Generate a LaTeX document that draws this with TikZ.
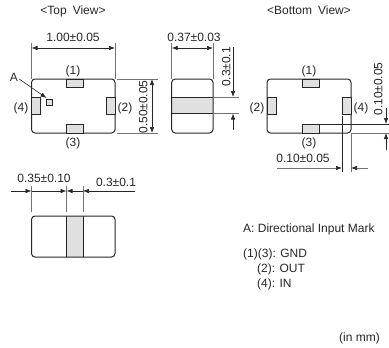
\documentclass[tikz,border=0pt]{standalone}
\usepackage{fontspec}
\setmainfont{Liberation Sans}
\usetikzlibrary{arrows.meta}
\definecolor{ink}{gray}{0.15}
\definecolor{fillg}{gray}{0.88}
\tikzset{
 x=1pt,y=-1pt,
 lab/.style={font=\fontsize{12}{12}\selectfont,text=ink,inner sep=0pt,text height=8.6pt,text depth=0pt},
 body/.style={draw=ink,line width=1pt,rounded corners=3.5pt},
 term/.style={draw=ink,line width=0.9pt,fill=fillg},
 ext/.style={draw=ink!65,line width=0.6pt},
 dim/.style={draw=ink,line width=0.6pt,{Latex[length=6pt,width=4.5pt,color=ink]}-{Latex[length=6pt,width=4.5pt,color=ink]}},
 arr/.style={draw=ink,line width=0.6pt,-{Latex[length=6pt,width=4.5pt,color=ink]}},
}
\begin{document}
\begin{tikzpicture}
\useasboundingbox (0,0) rectangle (389,348);
% labels
\node[lab] (tv) at (73,10) {<Top\,\,\,View>};
\node[lab] (bv) at (309,10) {<Bottom\,\,\,View>};
% top view
\draw[body] (31.5,79) rectangle (115,133);
\draw[term] (66,79) rectangle (83,87);
\draw[term] (66,124) rectangle (83,133);
\draw[term] (31.5,97) rectangle (40,114);
\draw[term] (106,97) rectangle (115,114);
\draw[draw=ink,line width=0.8pt,fill=fillg] (46,99) rectangle (52,105);
\node[lab] (p1) at (73,70) {(1)};
\node[lab] (p3) at (73,142) {(3)};
\node[lab] (p4) at (21,107) {(4)};
\node[lab] (p2) at (125,107) {(2)};
\node[lab] (a) at (14,77) {A};
\coordinate (am) at (46.5,98);
\draw[arr] (a.east) ++(1,2) -- (am);
\coordinate (t1) at (31.5,43); \coordinate (t2) at (31.5,79);
\coordinate (t3) at (115,43); \coordinate (t4) at (115,79);
\draw[ext] (t1) -- (t2); \draw[ext] (t3) -- (t4);
\coordinate (d1) at (31.5,48); \coordinate (d2) at (115,48);
\draw[dim] (d1) -- (d2);
\node[lab] (d100) at (73,37) {1.00±0.05};
\draw[ext] (117,79) -- (158,79); \draw[ext] (117,133) -- (158,133);
\coordinate (d3) at (152,79); \coordinate (d4) at (152,133);
\draw[dim] (d3) -- (d4);
\node[lab,rotate=90] (d50) at (143,107) {0.50±0.05};
% side view
\draw[fill=fillg,draw=none] (171.7,97) rectangle (213,113.5);
\draw[body] (171.7,79) rectangle (213,133);
\draw[draw=ink,line width=0.9pt] (171.7,97) -- (213,97) (171.7,113.5) -- (213,113.5);
\draw[ext] (171.7,43) -- (171.7,79); \draw[ext] (213,43) -- (213,79);
\coordinate (d5) at (171.7,48); \coordinate (d6) at (213,48);
\draw[dim] (d5) -- (d6);
\node[lab] (d37) at (194,37) {0.37±0.03};
\draw[ext] (213,97) -- (239,97); \draw[ext] (213,113.5) -- (239,113.5);
\coordinate (s1) at (233,47); \coordinate (s2) at (233,97);
\coordinate (s3) at (233,130); \coordinate (s4) at (233,113.5);
\draw[arr] (s1) -- (s2); \draw[arr] (s3) -- (s4);
\node[lab,rotate=90] (d3v) at (226,67) {0.3±0.1};
% bottom view
\draw[body] (267,79) rectangle (351,133);
\draw[term] (302,79) rectangle (319,87);
\draw[term] (302,124) rectangle (319,133);
\draw[term] (267,97) rectangle (276,114);
\draw[term] (342,97) rectangle (351,114);
\node[lab] (q1) at (309,70) {(1)};
\node[lab] (q3) at (309,142) {(3)};
\node[lab] (q2) at (257,107) {(2)};
\node[lab] (q4) at (361,107) {(4)};
\draw[ext,draw=ink] (342,116) -- (342,172); \draw[ext] (351,133) -- (351,172);
\coordinate (h1) at (277,168); \coordinate (h2) at (342,168);
\coordinate (h3) at (368,168); \coordinate (h4) at (351,168);
\draw[arr,draw=ink!65] (h1) -- (h2); \draw[arr,draw=ink!65] (h3) -- (h4);
\node[lab] (d10h) at (303,158) {0.10±0.05};
\draw[ext,draw=ink] (319,124) -- (389,124); \draw[ext] (351,133) -- (389,133);
\coordinate (v1) at (386,108); \coordinate (v2) at (386,124);
\coordinate (v3) at (386,150); \coordinate (v4) at (386,133);
\draw[arr] (v1) -- (v2); \draw[arr] (v3) -- (v4);
\node[lab,rotate=90] (d10v) at (378,89) {0.10±0.05};
% lower view
\draw[fill=fillg,draw=none] (66.5,216) rectangle (83,257);
\draw[body] (31.5,216) rectangle (115,257);
\draw[draw=ink,line width=0.9pt] (66.5,216) -- (66.5,257) (83,216) -- (83,257);
\draw[ext] (31.5,186) -- (31.5,212); \draw[ext] (66.5,186) -- (66.5,212); \draw[ext] (83,186) -- (83,212);
\coordinate (b1) at (11,191); \coordinate (b2) at (31.5,191);
\coordinate (b3) at (50,191); \coordinate (b4) at (66.5,191);
\coordinate (b5) at (75,191); \coordinate (b6) at (83,191);
\coordinate (b7) at (135,191);
\draw[arr] (b1) -- (b2); \draw[draw=ink,line width=0.6pt] (b2) -- (b3); \draw[arr] (b3) -- (b4); \draw[arr] (b5) -- (b4); \draw[arr] (b7) -- (b6);
\draw[draw=ink,line width=0.6pt] (b5) -- (b6);
\node[lab] (d35) at (44,178) {0.35±0.10};
\node[lab] (d3h) at (116,182) {0.3±0.1};
% legend
\node[lab,anchor=west] (l1) at (243,228) {A: Directional Input Mark};
\node[lab,anchor=west] (l2) at (243,253) {(1)(3): GND};
\node[lab,anchor=west] (l3) at (257,268) {(2): OUT};
\node[lab,anchor=west] (l4) at (257,283.5) {(4): IN};
\node[lab,anchor=east] (l5) at (380,337) {(in mm)};
\end{tikzpicture}
\end{document}
